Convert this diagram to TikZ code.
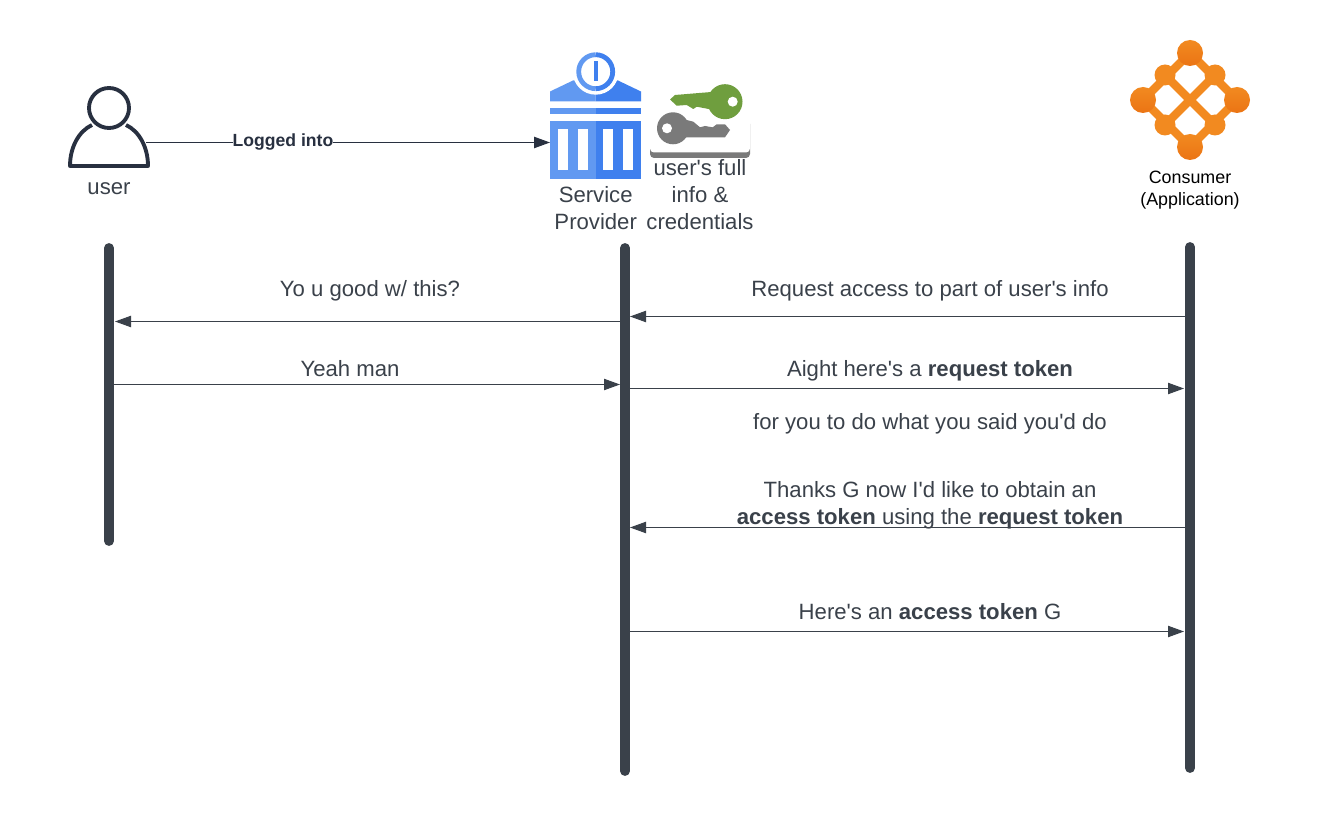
\documentclass[tikz,border=0pt]{standalone}
\usepackage{fontspec}
\setmainfont{Liberation Sans}[Ligatures=TeXOff]
\usetikzlibrary{arrows.meta}
\definecolor{slate}{HTML}{3A414A}
\definecolor{navy}{HTML}{283040}
\definecolor{blueL}{HTML}{6199F1}
\definecolor{blueR}{HTML}{3F80EE}
\definecolor{orangeA}{HTML}{F28A20}
\definecolor{orangeB}{HTML}{EB7414}
\definecolor{keygreen}{HTML}{6F9E3E}
\definecolor{keygray}{HTML}{7A7A7A}
\begin{document}
\begin{tikzpicture}[x=0.75pt,y=-0.75pt,
  lifeline/.style={slate,line width=7.4pt,line cap=round},
  msg/.style={slate,line width=0.8pt,-{Triangle[length=12pt,width=8.5pt]}},
  lbl/.style={slate,font=\fontsize{16.6}{20.25}\selectfont,align=center,inner sep=0pt},
  applbl/.style={black,font=\fontsize{13.4}{16.5}\selectfont,align=center,inner sep=0pt},
  link/.style={orangeA,line width=6.2pt},
  bigdot/.style={top color=orangeA,bottom color=orangeB,shading angle=0}]
\useasboundingbox (0,0) rectangle (1321,816);

\draw[lifeline] (109,248) -- (109,541);
\draw[lifeline] (625,248) -- (625,771);
\draw[lifeline] (1190,247) -- (1190,768);

\draw[navy,line width=2.9pt] (109,108) circle (20);
\draw[navy,line width=2.9pt,line join=round] (92,125) .. controls (79,131) and (70,147) .. (70,166) -- (148,166) .. controls (148,147) and (139,131) .. (126,125);
\node[lbl] (userlbl) at (109,189) {user};

\fill[blueL] (550,101.5) -- (550,91.5) -- (573,80.5) -- (595.7,80.5) -- (595.7,101.5) -- cycle;
\fill[blueR] (641,101.5) -- (641,91.5) -- (618,80.5) -- (595.7,80.5) -- (595.7,101.5) -- cycle;
\fill[blueL] (550,108) rectangle (595.7,114);
\fill[blueR] (595.7,108) rectangle (641,114);
\fill[blueL] (550,121.5) rectangle (595.7,179);
\fill[blueR] (595.7,121.5) rectangle (641,179);
\fill[white] (558,129.5) rectangle (568,170.5);
\fill[white] (577.7,129.5) rectangle (588,170.5);
\fill[white] (602.7,129.5) rectangle (612.7,170.5);
\fill[white] (622.7,129.5) rectangle (632.7,170.5);
\fill[white] (595.7,71.7) circle (23);
\draw[blueL,line width=3.6pt] (595.7,54.7) arc[start angle=-90,end angle=-270,radius=17];
\draw[blueR,line width=3.6pt] (595.7,54.7) arc[start angle=-90,end angle=90,radius=17];
\fill[blueR] (593.5,61.5) rectangle (597.8,81.5);
\node[lbl] (splbl) at (595.7,208) {Service\\Provider};

\fill[keygray,rounded corners=3pt] (650,120) rectangle (750,158);
\fill[white,rounded corners=3pt] (650,84) rectangle (750,152.5);
\fill[keygreen] (725,101.7) circle (17.5);
\fill[keygreen] (670,99.5) -- (675,95) -- (715,91.7) -- (715,111.7) -- (710,109.3) -- (705,108.3) -- (696.7,106.7) -- (693.3,109) -- (686.7,105) -- (676.7,105.7) -- cycle;
\fill[white] (732.7,101.7) circle (5);
\fill[keygray] (673,128.3) circle (16);
\fill[keygray] (680,120) -- (686.7,120) -- (693.3,121.7) -- (700,127.3) -- (705,126) -- (712.7,127.3) -- (716.7,124.3) -- (725,124.3) -- (730,130) -- (725,137.3) -- (680,137.3) -- cycle;
\fill[white] (667,128.3) circle (5);
\node[lbl] (keylbl) at (700,194.5) {user's full\\info \&\\credentials};

\draw[link] (1190,53) -- (1237,100) -- (1190,147) -- (1143,100) -- cycle;
\draw[link] (1165,75) -- (1215,125);
\draw[link] (1215,75) -- (1165,125);
\shade[bigdot] (1190,53) circle (13);
\shade[bigdot] (1143,100) circle (13);
\shade[bigdot] (1237,100) circle (13);
\shade[bigdot] (1190,147) circle (13);
\fill[orangeA] (1165,75) circle (10.5);
\fill[orangeA] (1215,75) circle (10.5);
\fill[orangeA] (1165,125) circle (10.5);
\fill[orangeA] (1215,125) circle (10.5);
\node[applbl] (consumerlbl) at (1190,190) {Consumer\\(Application)};

\coordinate (userout) at (146,142.5);
\coordinate (spin) at (550,142.5);
\draw[navy,line width=1pt,-{Triangle[length=12pt,width=8.5pt]}] (userout) -- (spin) node[pos=0.339,fill=white,inner sep=0pt,yshift=0.5pt,font=\fontsize{13.2}{15}\selectfont\bfseries,text=navy] (logged) {Logged into};

\coordinate (spA) at (621,321.5);
\coordinate (userA) at (115,321.5);
\coordinate (conA) at (1186,316.5);
\coordinate (spB) at (630,316.5);
\coordinate (userC) at (114,384.5);
\coordinate (spC) at (620,384.5);
\coordinate (spD) at (630,388.5);
\coordinate (conD) at (1184,388.5);
\coordinate (conE) at (1186,527.5);
\coordinate (spE) at (630,527.5);
\coordinate (spF) at (630,631.5);
\coordinate (conF) at (1184,631.5);

\draw[msg] (spA) -- (userA);
\draw[msg] (conA) -- (spB);
\draw[msg] (userC) -- (spC);
\draw[msg] (spD) -- (conD);
\draw[msg] (conE) -- (spE);
\draw[msg] (spF) -- (conF);

\node[lbl] (askuser) at (370,290.7) {Yo u good w/ this?};
\node[lbl] (askinfo) at (930,290.7) {Request access to part of user's info};
\node[lbl] (yeah) at (350,368.5) {Yeah man};
\node[lbl] (reqtoken) at (930,370.7) {Aight here's a \textbf{request token}};
\node[lbl] (forwhat) at (930,423.5) {for you to do what you said you'd do};
\node[lbl] (thanks) at (930,505) {Thanks G now I'd like to obtain an\\\textbf{access token} using the \textbf{request token}};
\node[lbl] (acctoken) at (930,611.5) {Here's an \textbf{access token} G};
\end{tikzpicture}
\end{document}
